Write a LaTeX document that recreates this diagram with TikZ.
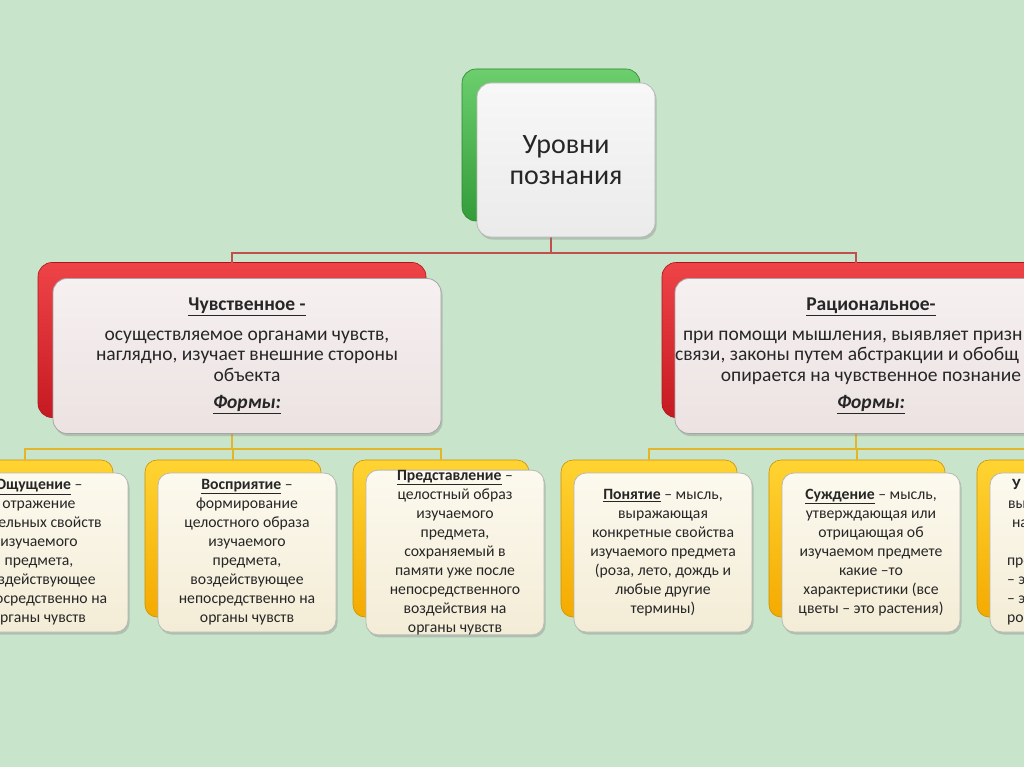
\documentclass[tikz,border=0pt]{standalone}
\usepackage{fontspec}
\setmainfont{Carlito}
\usetikzlibrary{shadows}
\definecolor{bgc}{RGB}{200,228,202}
\definecolor{gtop}{RGB}{108,206,108}
\definecolor{gbot}{RGB}{52,156,58}
\definecolor{rtop}{RGB}{238,68,72}
\definecolor{rbot}{RGB}{198,26,34}
\definecolor{ytop}{RGB}{255,212,50}
\definecolor{ybot}{RGB}{244,170,0}
\definecolor{redl}{RGB}{192,80,77}
\definecolor{yell}{RGB}{226,182,42}
\definecolor{txt}{RGB}{38,38,38}
\begin{document}
\begin{tikzpicture}[x=1pt,y=-1pt,
  box/.style={inner sep=0pt,outer sep=0pt,align=center,text=txt},
  gback/.style={box,rounded corners=14pt,minimum width=178pt,minimum height=152pt,
    top color=gtop,bottom color=gbot,draw=gbot!85!black,line width=0.6pt},
  gfront/.style={box,rounded corners=14pt,minimum width=178pt,minimum height=154pt,
    top color=white!97!black,bottom color=black!8,draw=black!28,line width=0.8pt,
    drop shadow={shadow xshift=1.5pt,shadow yshift=-2.5pt,opacity=0.35},
    font=\fontsize{28}{31}\selectfont},
  rback/.style={box,rounded corners=14pt,minimum width=388pt,minimum height=155pt,
    top color=rtop,bottom color=rbot,draw=rbot!85!black,line width=0.6pt},
  rfront/.style={box,rounded corners=14pt,minimum width=388pt,minimum height=155pt,
    top color={rgb,255:red,246;green,240;blue,240},bottom color={rgb,255:red,236;green,226;blue,226},
    draw=black!35,line width=0.8pt,
    drop shadow={shadow xshift=1.5pt,shadow yshift=-2.5pt,opacity=0.35},
    font=\fontsize{19.5}{20.5}\selectfont},
  yback/.style={box,rounded corners=12pt,minimum width=176pt,minimum height=157pt,
    top color=ytop,bottom color=ybot,draw=ybot!85!black,line width=0.6pt},
  yfront/.style={box,rounded corners=12pt,minimum width=178pt,minimum height=159pt,
    top color={rgb,255:red,252;green,249;blue,238},bottom color={rgb,255:red,243;green,236;blue,214},
    draw=black!28,line width=0.8pt,
    drop shadow={shadow xshift=1.5pt,shadow yshift=-2.5pt,opacity=0.35},
    font=\fontsize{15.7}{19}\selectfont},
  redline/.style={draw=redl,line width=1.4pt},
  yelline/.style={draw=yell,line width=1.4pt}
]
\useasboundingbox (0,0) rectangle (1024,767);
\clip (0,0) rectangle (1024,767);
\fill[bgc] (0,0) rectangle (1024,767);

% back boxes
\node[gback] (gb) at (551,145) {};
\node[rback] (lb) at (232,340) {};
\node[rback] (rb) at (856,340) {};
\node[yback] (y1b) at (25,538.5) {};
\node[yback] (y2b) at (233,538.5) {};
\node[yback] (y3b) at (441,538.5) {};
\node[yback] (y4b) at (649,538.5) {};
\node[yback] (y5b) at (857,538.5) {};
\node[yback] (y6b) at (1065,538.5) {};

% connectors
\coordinate (tbus) at (552,253);
\coordinate (ybus) at (0,449);
\draw[redline] (gb.south) -- (gb.south |- tbus);
\draw[redline] (lb.north) -- (lb.north |- tbus) -- (rb.north |- tbus) -- (rb.north);
\draw[yelline] (lb.south) -- (lb.south |- ybus);
\draw[yelline] (y1b.north) -- (y1b.north |- ybus) -- (y3b.north |- ybus) -- (y3b.north);
\draw[yelline] (y2b.north) -- (y2b.north |- ybus);
\draw[yelline] (rb.south) -- (rb.south |- ybus);
\draw[yelline] (y4b.north) -- (y4b.north |- ybus) -- (y6b.north |- ybus) -- (y6b.north);
\draw[yelline] (y5b.north) -- (y5b.north |- ybus);

% front boxes
\node[gfront] (top) at (566,160) {Уровни\\познания};
\node[rfront] (left) at (247,356) {\underline{\textbf{Чувственное -}}\\[9pt]
  осуществляемое органами чувств,\\наглядно, изучает внешние стороны\\объекта\\[7pt]
  \underline{\textbf{\textit{Формы:}}}};
\node[rfront] (right) at (871,356) {\underline{\textbf{Рациональное-}}\\[9pt]
  \makebox[376pt][l]{при помощи мышления, выявляет призн}\\
  \makebox[392pt][l]{связи, законы путем абстракции и обобщ}\\
  опирается на чувственное познание\\[7pt]
  \underline{\textbf{\textit{Формы:}}}};

\node[yfront] (y1) at (39,552.5) {\underline{\textbf{Ощущение}} –\\отражение\\отдельных свойств\\изучаемого\\предмета,\\воздействующее\\непосредственно на\\органы чувств};
\node[yfront] (y2) at (247,552.5) {\underline{\textbf{Восприятие}} –\\формирование\\целостного образа\\изучаемого\\предмета,\\воздействующее\\непосредственно на\\органы чувств};
\node[yfront] (y3) at (455,552.5) {\underline{\textbf{Представление}} –\\целостный образ\\изучаемого\\предмета,\\сохраняемый в\\памяти уже после\\непосредственного\\воздействия на\\органы чувств};
\node[yfront] (y4) at (663,552.5) {\underline{\textbf{Понятие}} – мысль,\\выражающая\\конкретные свойства\\изучаемого предмета\\(роза, лето, дождь и\\любые другие\\термины)};
\node[yfront] (y5) at (871,552.5) {\underline{\textbf{Суждение}} – мысль,\\утверждающая или\\отрицающая об\\изучаемом предмете\\какие –то\\характеристики (все\\цветы – это растения)};
\node[yfront] (y6) at (1079,552.5) {\makebox[134pt][l]{\textbf{У}}\\\makebox[142pt][l]{вы}\\\makebox[134pt][l]{на}\\\mbox{}\\\makebox[144pt][l]{пре}\\\makebox[144pt][l]{– э}\\\makebox[144pt][l]{– э}\\\makebox[144pt][l]{ро}};
\end{tikzpicture}
\end{document}
